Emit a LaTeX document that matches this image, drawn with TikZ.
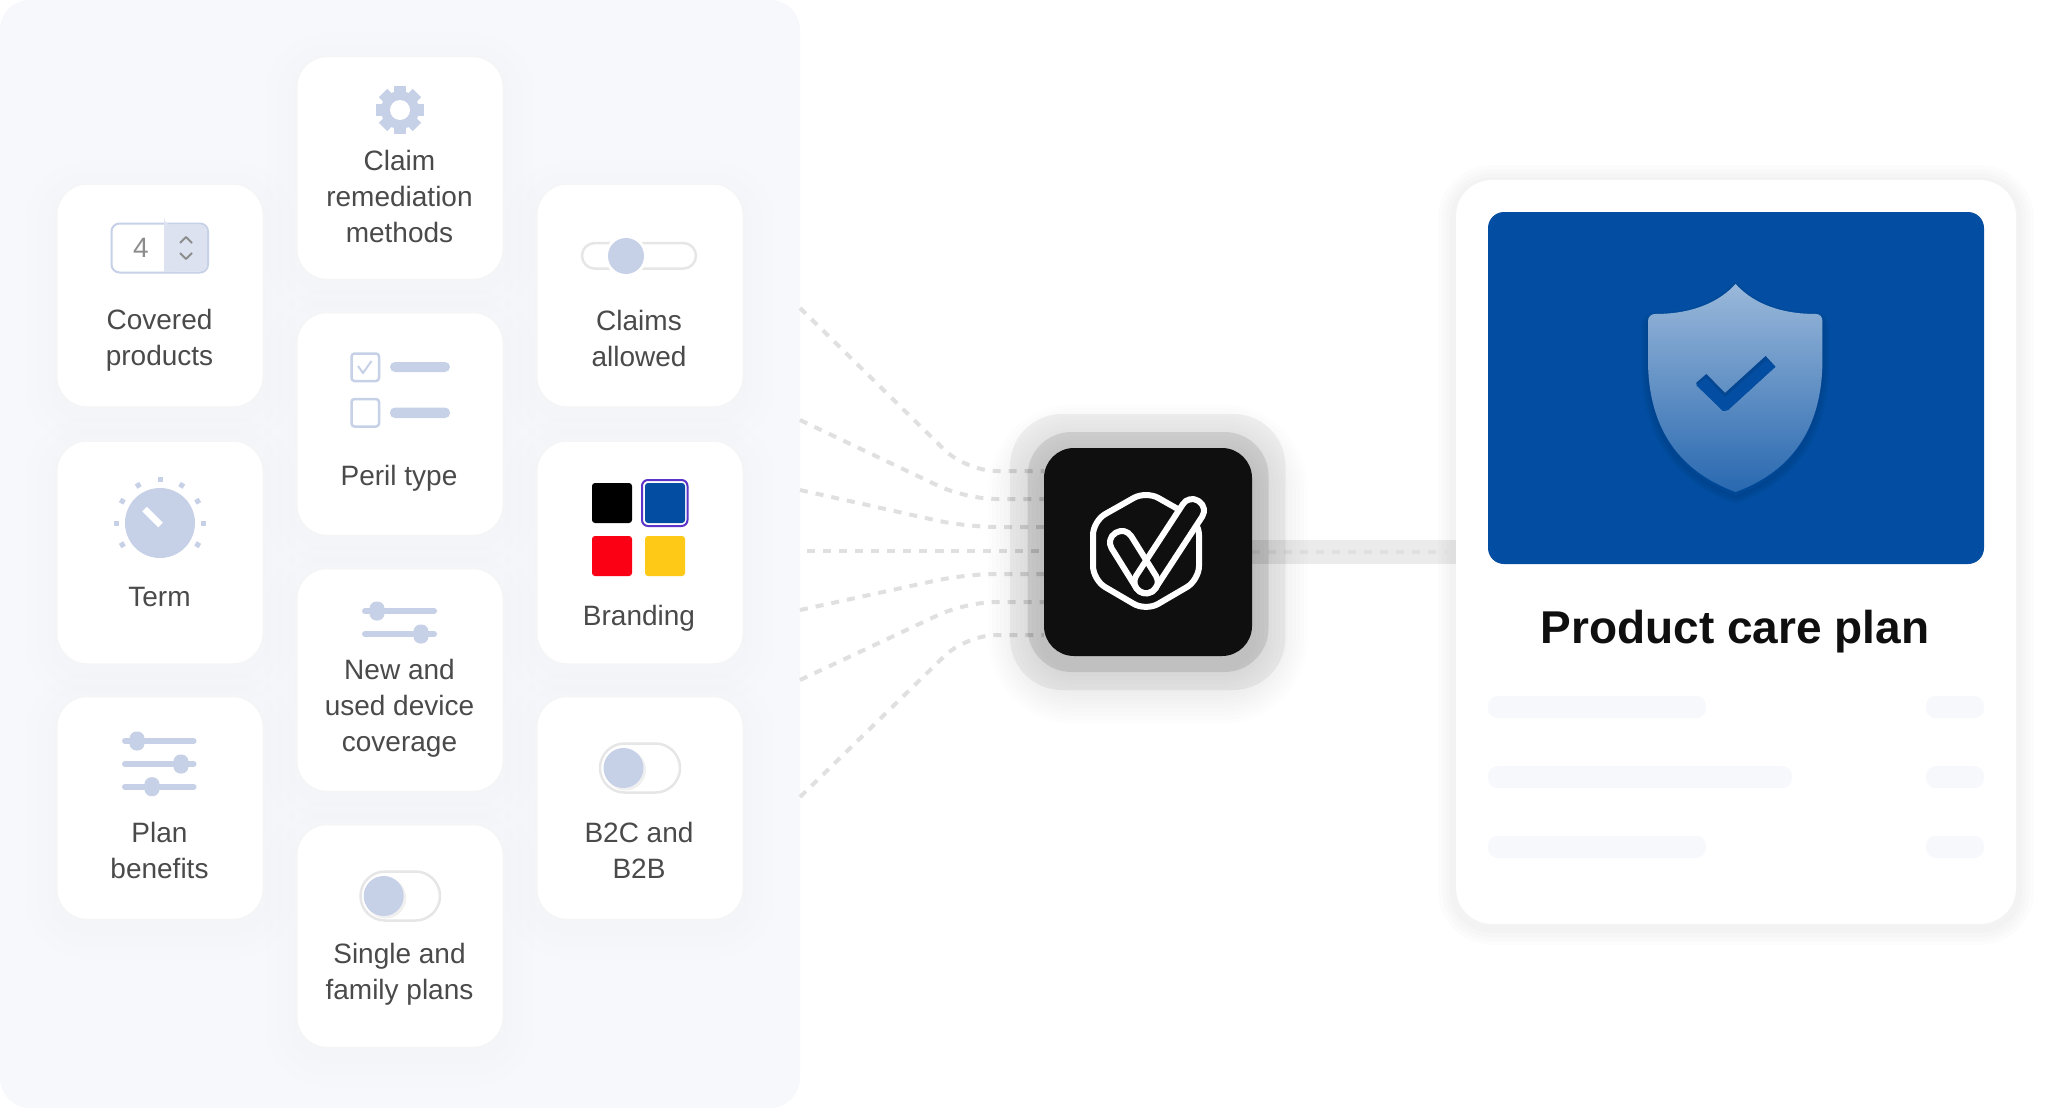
\documentclass[tikz,border=0pt]{standalone}
\usepackage{fontspec}
\setmainfont{Liberation Sans}
\usetikzlibrary{calc}
\definecolor{panelbg}{HTML}{F7F8FC}
\definecolor{iconblue}{HTML}{C6D0E6}
\definecolor{stepbg}{HTML}{DCE2EF}
\definecolor{trackgray}{HTML}{E6E6E6}
\definecolor{linkgray}{HTML}{E0E0E0}
\definecolor{labelgray}{HTML}{4A4A4A}
\definecolor{hubblack}{HTML}{0F0F0F}
\definecolor{planblue}{HTML}{034EA2}
\definecolor{ringpurple}{HTML}{5A35C8}
\definecolor{swatchred}{HTML}{FB0014}
\definecolor{swatchyellow}{HTML}{FFC917}
\newcommand{\shieldpath}{(1735.6,284) .. controls (1750,300) and (1775,314) .. (1816,314) .. controls (1820,314) and (1822.4,317) .. (1822.4,321) -- (1822.4,360) .. controls (1822.4,430) and (1790,472) .. (1735.6,492) .. controls (1681,472) and (1648,430) .. (1648,360) -- (1648,321) .. controls (1648,317) and (1651,314) .. (1655,314) .. controls (1696,314) and (1721,300) .. (1735.6,284) -- cycle}

\begin{document}
\begin{tikzpicture}[
    x=1pt,
    y=-1pt,
    line join=round,
    card/.style={fill=white,draw=black!4,line width=1pt,rounded corners=30pt,inner sep=0pt,outer sep=0pt,minimum width=206pt,minimum height=222.5pt},
    cardtext/.style={text=labelgray,align=center,inner sep=0pt,font=\fontsize{28}{36}\selectfont},
    link/.style={draw=linkgray,line width=4pt,dash pattern=on 8pt off 8pt,rounded corners=30pt},
    icon/.style={fill=iconblue},
    iconline/.style={draw=iconblue,line width=6pt,line cap=round},
    iconbox/.style={draw=iconblue,line width=2.5pt,fill=white,rounded corners=3pt},
    track/.style={draw=trackgray,line width=2.5pt,fill=white},
    logo/.style={draw=white,line width=6pt},
    swatch/.style={rounded corners=3pt}
]
\useasboundingbox (0,0) rectangle (2056,1108);
\fill[white] (0,0) rectangle (2056,1108);
\fill[panelbg,rounded corners=30pt] (0,0) rectangle (800,1108);

% shadows of the cards
\foreach \cx/\cy in {160/295.5,160/552.5,160/808,400/168,400/424,400/680,400/936,640/295.5,640/552.5,640/808}{
  \foreach \s in {8,20,32}{
    \fill[black,opacity=0.005,rounded corners={30pt+\s*1pt}] ({\cx-103-\s},{\cy-111+8-\s}) rectangle ({\cx+103+\s},{\cy+111+8+\s});
  }
}

\node[card] (covered) at (160,295.5) {};
\node[card] (term) at (160,552.5) {};
\node[card] (benefits) at (160,808) {};
\node[card] (claim) at (400,168) {};
\node[card] (peril) at (400,424) {};
\node[card] (device) at (400,680) {};
\node[card] (family) at (400,936) {};
\node[card] (allowed) at (640,295.5) {};
\node[card] (branding) at (640,552.5) {};
\node[card] (btwob) at (640,808) {};

\node[cardtext] (coveredtext) at (159.5,340.6) {Covered\\products};
\node[cardtext] (termtext) at (159.5,597) {Term};
\node[cardtext] (benefitstext) at (159.5,850) {Plan\\benefits};
\node[cardtext] (claimtext) at (399.5,196) {Claim\\remediation\\methods};
\node[cardtext] (periltext) at (399,478.5) {Peril type};
\node[cardtext] (devicetext) at (399.5,708.6) {New and\\used device\\coverage};
\node[cardtext] (familytext) at (399.5,974.6) {Single and\\family plans};
\node[cardtext] (allowedtext) at (639,338) {Claims\\allowed};
\node[cardtext] (brandingtext) at (639,618.6) {Branding};
\node[cardtext] (btwobtext) at (639,850) {B2C and\\B2B};

% stepper
\draw[iconbox,line width=2pt,rounded corners=8pt] (111.5,223.5) rectangle (208,272.5);
\fill[stepbg,rounded corners=7pt] (164,224.5) -| (207,271.5) -| cycle;
\fill[stepbg] (164,224.5) rectangle (172,271.5);
\node[text=black!45,inner sep=0pt,font=\fontsize{28}{30}\selectfont] (stepnum) at (141,248) {4};
\draw[black!45,line width=2pt] (180,243) -- (186,237) -- (192,243);
\draw[black!45,line width=2pt] (180,253) -- (186,259) -- (192,253);

% gear
\fill[icon] (400,110) circle (19);
\foreach \a in {0,45,...,315}{
  \draw[iconblue,line width=12pt] (400,110) -- ++(\a:24);
}
\fill[white] (400,110) circle (10);

% checklist
\draw[iconbox] (351.5,353.5) rectangle (379,381);
\draw[iconbox] (351.5,399) rectangle (379,426.5);
\draw[iconblue,line width=2pt] (358,366) -- (363,373) -- (371.5,361);
\fill[icon,rounded corners=5pt] (390,362) rectangle (450,372);
\fill[icon,rounded corners=5pt] (390,407.5) rectangle (450,418);

% claims slider
\draw[track,rounded corners=12.8pt] (582,243) rectangle (696,268.6);
\fill[white] (626,256) circle (21);
\fill[icon] (626,256) circle (18);

% dial
\fill[icon] (160,523) circle (35);
\foreach \a in {-150,-30,0,30,60,90,120,150,180}{
  \fill[iconblue,rotate around={\a:(160,523)}] (201,520.5) rectangle (206,525.5);
}
\draw[white,line width=6.5pt] (144.5,509) -- (160.5,525);

% swatches
\fill[black,swatch] (592,483) rectangle (632,523);
\draw[ringpurple,line width=2pt,rounded corners=6pt] (642,480) rectangle (687.5,526);
\fill[planblue,swatch] (645,483) rectangle (685,523);
\fill[swatchred,swatch] (592,536) rectangle (632,576);
\fill[swatchyellow,swatch] (645,536) rectangle (685,576);

% sliders
\draw[iconline] (125,741) -- (193.5,741);
\draw[iconline] (125,764) -- (193.5,764);
\draw[iconline] (125,786.7) -- (193.5,786.7);
\foreach \kx/\ky in {137/741,181/764,152/786.7,377/611,421/634}{
  \fill[icon,rounded corners=7pt] ({\kx-7.5},{\ky-9.5}) rectangle ({\kx+7.5},{\ky+9.5});
}
\draw[iconline] (365,611) -- (434,611);
\draw[iconline] (365,634) -- (434,634);

% toggles
\draw[track,rounded corners=24.5pt] (600,743.5) rectangle (680,792.5);
\fill[black,opacity=0.06] (625.5,770) circle (20.5);
\fill[icon] (623.5,768) circle (20);
\draw[track,rounded corners=24.5pt] (360.5,871.5) rectangle (440,920.5);
\fill[black,opacity=0.06] (385.7,898) circle (20.5);
\fill[icon] (383.7,896) circle (20);

% product card
\foreach \s in {6,10,14,18}{
  \fill[black,opacity=0.01,rounded corners={36pt+\s*1pt}] ({1456-\s},{180+3-\s}) rectangle ({2016+\s},{924+3+\s});
}
\node[card,draw=none,rounded corners=36pt,minimum width=560pt,minimum height=744pt] (plan) at (1736,552) {};
\fill[planblue,rounded corners=16pt] (1488,212) rectangle (1984,564);
\foreach \s in {14,11,...,2}{
  \draw[black,opacity=0.02,line width=\s*1pt,shift={(0,5)}] \shieldpath;
}
\shade[top color=white!60!planblue,bottom color=white!15!planblue] \shieldpath;
\fill[black!10!planblue] (1696,383) -- (1706.4,374) -- (1725,393) -- (1765.6,356) -- (1775.4,366.7) -- (1728,410) -- (1723,411) -- cycle;
\fill[planblue] (1696,385) -- (1706.4,378) -- (1725,397) -- (1767,360) -- (1775.4,366.7) -- (1728,410) -- (1723,411) -- cycle;

\node[text=hubblack,inner sep=0pt,font=\fontsize{46}{50}\selectfont\bfseries] (plantitle) at (1735,632) {Product care plan};
\fill[panelbg,rounded corners=10pt] (1488,696) rectangle (1706,718);
\fill[panelbg,rounded corners=10pt] (1488,766) rectangle (1792,788);
\fill[panelbg,rounded corners=10pt] (1488,836) rectangle (1706,858);
\fill[panelbg,rounded corners=10pt] (1926,696) rectangle (1984,718);
\fill[panelbg,rounded corners=10pt] (1926,766) rectangle (1984,788);
\fill[panelbg,rounded corners=10pt] (1926,836) rectangle (1984,858);

% connectors
\coordinate (hubeast) at (1252,552);
\draw[black,opacity=0.08,line width=24pt] (hubeast) -- (plan.west);
\draw[link] (hubeast) -- (plan.west);
\foreach \i/\sx/\sy/\ey in {1/800/308/471,2/800/420/499,3/800/490/527,4/807/551/551,5/800/610/574,6/800/680/602,7/800/797/635}{
  \coordinate (in\i) at (\sx,\sy);
  \coordinate (out\i) at (1044,\ey);
  \draw[link] (in\i) -- (966,\ey) -- (out\i);
}

% hub
\fill[black,opacity=0.05,rounded corners=52pt] (1010,414) rectangle (1285.5,690);
\fill[black,opacity=0.09,rounded corners=44pt] (1027.5,432) rectangle (1268.5,672);
\foreach \s in {4,8,...,56}{
  \fill[black,opacity=0.008,rounded corners={30pt+\s*1pt}] ({1044-\s},{448+12-\s}) rectangle ({1252+\s},{656+12+\s});
}
\node[fill=hubblack,rounded corners=30pt,inner sep=0pt,outer sep=0pt,minimum width=208pt,minimum height=208pt] (hub) at (1148,552) {};
\draw[logo,rounded corners=14pt] (1146,491) -- (1199,521) -- (1199,580) -- (1146,611) -- (1093,580) -- (1093,521) -- cycle;
\draw[logo,fill=hubblack,rounded corners=11pt] (1208.2,507.4) -- (1189,494.8) -- (1130.1,585) -- (1149.3,597.6) -- cycle;
\draw[logo,rounded corners=11pt] (1125.4,526.8) -- (1105.8,539) -- (1142.3,597.6) -- (1161.9,585.4) -- cycle;
\end{tikzpicture}
\end{document}
